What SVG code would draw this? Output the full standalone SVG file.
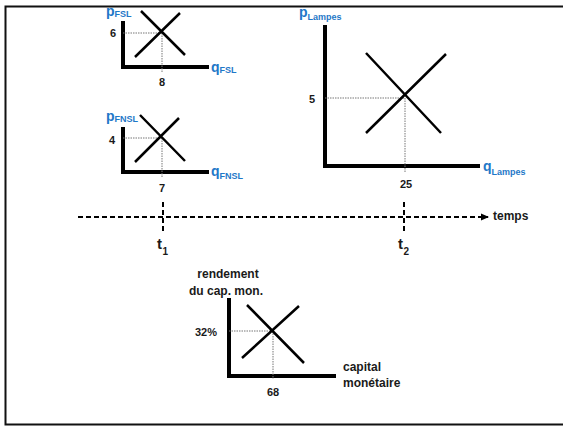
<svg xmlns="http://www.w3.org/2000/svg" width="563" height="426" viewBox="0 0 563 426">
<style>
text{font-family:"Liberation Sans",Arial,sans-serif;font-weight:bold;fill:#1a1a1a}
.num{font-size:11px;text-anchor:middle}
.lbl{font-size:12px}
.blue{fill:#1f78c8}
.var{font-size:14px}
.sub{font-size:9px}
.axis{stroke:#000;stroke-width:4;fill:none;stroke-linecap:square}
.curve{stroke:#000;stroke-width:2.5;fill:none}
.dot{stroke:#777;stroke-width:1;stroke-dasharray:1.5 1;fill:none}
.dash{stroke:#000;stroke-width:2;stroke-dasharray:5 3;fill:none}
.t{font-size:15px}
.tsub{font-size:10px}
</style>
<defs>
<marker id="arr" markerWidth="8" markerHeight="8" refX="7" refY="4" orient="auto" markerUnits="userSpaceOnUse">
<path d="M0,0.5 L8,4 L0,7.5 Z" fill="#000"/>
</marker>
</defs>
<rect x="0" y="0" width="563" height="426" fill="#fff"/>
<path d="M563,6.5 H5.5 V424.5 H563" fill="none" stroke="#111" stroke-width="2"/>

<g id="graph-fsl">
<path class="axis" d="M123,23 V67 H207"/>
<path class="dot" d="M123,33 H162 M162,33 V72"/>
<path class="curve" d="M141,11 L185,55 M180,13 L135,57"/>
<text class="var blue" x="106" y="15.5">p<tspan class="sub" dy="1.8">FSL</tspan></text>
<text class="var blue" x="211" y="71.5">q<tspan class="sub" dy="1.8">FSL</tspan></text>
<text class="num" x="113" y="37">6</text>
<text class="num" x="162" y="86">8</text>
</g>

<g id="graph-fnsl">
<path class="axis" d="M123,129 V172 H207"/>
<path class="dot" d="M123,138 H162 M162,138 V178"/>
<path class="curve" d="M140,115 L185,161 M179,118 L135,162"/>
<text class="var blue" x="106" y="120.5">p<tspan class="sub" dy="1.5">FNSL</tspan></text>
<text class="var blue" x="211" y="175.5">q<tspan class="sub" dy="3">FNSL</tspan></text>
<text class="num" x="112" y="144">4</text>
<text class="num" x="162" y="192">7</text>
</g>

<g id="graph-lampes">
<path class="axis" d="M325,27 V166 H478"/>
<path class="dot" d="M325,98 H405 M405,98 V172"/>
<path class="curve" d="M366,53 L441,133 M446,54 L366,133"/>
<text class="var blue" x="299" y="17">p<tspan class="sub" dy="3">Lampes</tspan></text>
<text class="var blue" x="483" y="171">q<tspan class="sub" dy="3.5">Lampes</tspan></text>
<text class="num" x="312" y="103">5</text>
<text class="num" x="406" y="188">25</text>
</g>

<g id="graph-capital">
<path class="axis" d="M229,300 V376 H334"/>
<path class="dot" d="M229,331 H273 M273,331 V379"/>
<path class="curve" d="M247,305 L304,363 M299,306 L242,358"/>
<text class="lbl" x="228" y="278" text-anchor="middle">rendement</text>
<text class="lbl" x="226" y="295" text-anchor="middle">du cap. mon.</text>
<text class="lbl" x="343" y="371">capital</text>
<text class="lbl" x="343" y="387">monétaire</text>
<text class="num" x="206" y="336">32%</text>
<text class="num" x="273" y="396">68</text>
</g>

<g id="connectors">
<line class="dash" x1="78" y1="217" x2="488" y2="217" marker-end="url(#arr)"/>
<line class="dash" x1="163" y1="202" x2="163" y2="231"/>
<line class="dash" x1="404" y1="202" x2="404" y2="231"/>
</g>

<g id="time-labels">
<text class="lbl" x="493" y="220">temps</text>
<text class="t" x="157" y="249">t<tspan class="tsub" dx="0.5" dy="6">1</tspan></text>
<text class="t" x="398" y="249">t<tspan class="tsub" dx="0.5" dy="6">2</tspan></text>
</g>
</svg>
